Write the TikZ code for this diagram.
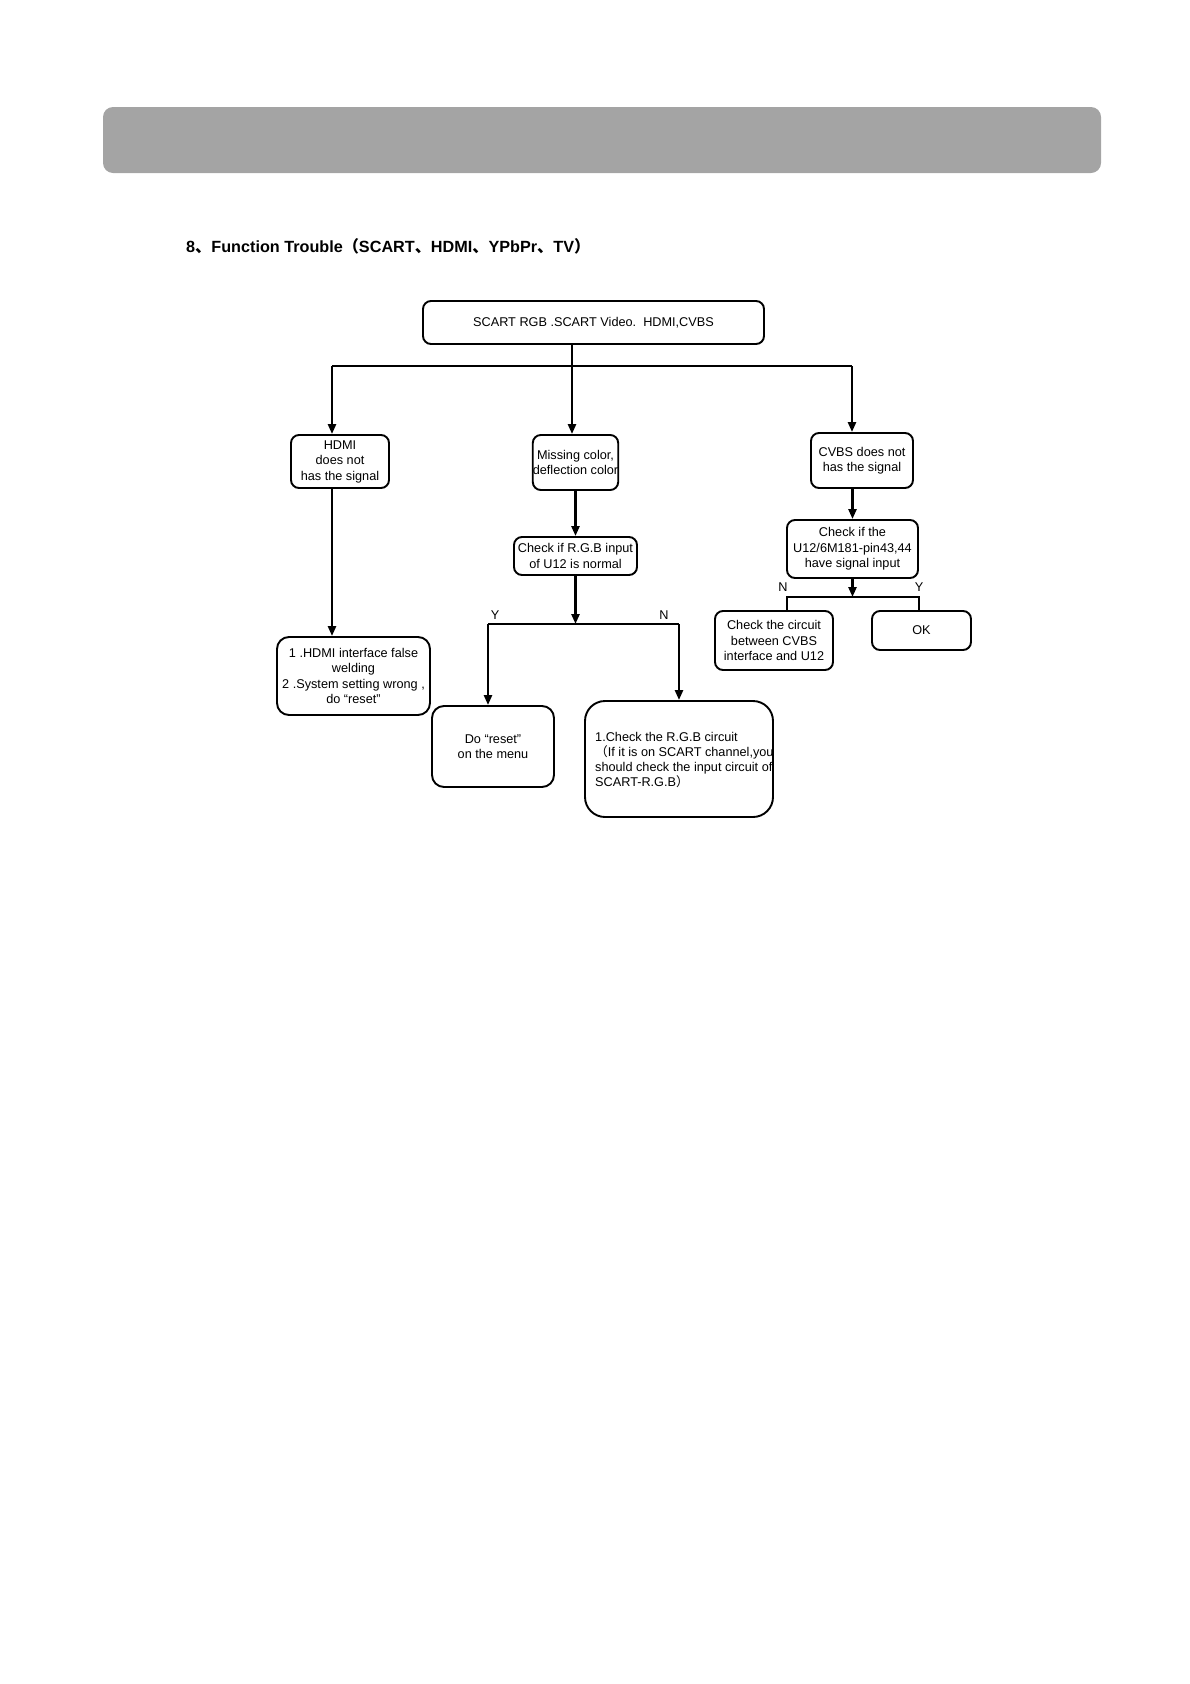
\documentclass[tikz,border=0pt]{standalone}
\usepackage{fontspec}
\setmainfont{Liberation Sans}
\newfontfamily\cjk{Noto Sans CJK SC}
\usetikzlibrary{arrows.meta}
\tikzset{
  box/.style   ={draw,rounded corners=8pt,line width=1.9pt,inner sep=0pt,align=center,
                 font=\fontsize{12.7}{15.5}\selectfont},
  midbox/.style={box,rounded corners=12pt},
  bigbox/.style={box,rounded corners=20pt},
  wire/.style  ={line width=2.4pt},
  arr/.style   ={wire,-{Triangle[length=10pt,width=8pt]}},
  yn/.style    ={font=\fontsize{12.7}{14}\selectfont,inner sep=0pt},
}
\newcommand{\cj}[1]{{\cjk #1}}

\begin{document}
\begin{tikzpicture}[x=1pt,y=-1pt]
  \useasboundingbox (0,0) rectangle (1190,1684);
  % header bar and title
  \fill[rounded corners=10pt,fill={rgb,255:red,164;green,164;blue,164}] (103,107) rectangle (1101,173);
  \node[anchor=west,inner sep=0pt,font=\fontsize{16.2}{18}\selectfont\bfseries] (title) at (186,246)
    {8\cj{、}Function Trouble\cj{（}SCART\cj{、}HDMI\cj{、}YPbPr\cj{、}TV\cj{）}};

  % boxes
  \node[box,minimum width=341,minimum height=43] (src) at (593.5,322.5) {SCART RGB .SCART Video.\ \ HDMI,CVBS};
  \node[box,minimum width=98,minimum height=53]  (hdmi) at (340,461.5) {HDMI\\does not\\has the signal};
  \node[box,minimum width=85,minimum height=55]  (miss) at (575.5,462.5) {Missing color,\\deflection color};
  \node[box,minimum width=102,minimum height=55] (cvbs) at (862,460.5) {CVBS does not\\has the signal};
  \node[midbox,minimum width=153,minimum height=78] (fix) at (353.5,676)
    {1 .HDMI interface false\\welding\\2 .System setting wrong ,\\do “reset”};
  \node[box,minimum width=123,minimum height=38] (rgbq) at (575.5,556) {Check if R.G.B input\\of U12 is normal};
  \node[box,minimum width=131,minimum height=58] (chk) at (852.5,549) {Check if the\\U12/6M181-pin43,44\\have signal input};
  \node[box,minimum width=118,minimum height=59] (ckc) at (774,640.5) {Check the circuit\\between CVBS\\interface and U12};
  \node[box,minimum width=99,minimum height=39]  (ok) at (921.5,630.5) {OK};
  \node[midbox,minimum width=122,minimum height=81] (reset) at (493,746.5) {Do “reset”\\on the menu};
  \node[bigbox,minimum width=188,minimum height=116] (rgbc) at (679,759) {};
  \node[anchor=west,inner sep=0pt,align=left,font=\fontsize{12.7}{15}\selectfont] (rgbtxt) at (595,759.5)
    {1.Check the R.G.B circuit\\\cj{（}If it is on SCART channel,you\\should check the input circuit of\\SCART-R.G.B\cj{）}};

  % first split
  \coordinate (sp) at (572,366);
  \coordinate (spl) at (332,366);
  \coordinate (spr) at (852,366);
  \draw[arr] (src.south -| sp) -- (sp |- miss.north);
  \draw[wire] (spl) -- (spr);
  \draw[arr] (spl) -- (spl |- hdmi.north);
  \draw[arr] (spr) -- (spr |- cvbs.north);
  \draw[arr] (spl |- hdmi.south) -- (spl |- fix.north);

  % middle branch
  \draw[arr] (miss.south) -- (rgbq.north);
  \coordinate (mj) at (575.5,624);
  \coordinate (my) at (488,624);
  \coordinate (mn) at (679,624);
  \draw[arr] (rgbq.south) -- (mj);
  \draw[wire] (my) -- (mn);
  \draw[arr] (my) -- (my |- reset.north);
  \draw[arr] (mn) -- (mn |- rgbc.north);
  \node[yn] (ly) at (495,615) {Y};
  \node[yn] (ln) at (664,615) {N};

  % right branch
  \draw[arr] (cvbs.south -| chk) -- (chk.north);
  \coordinate (rj) at (852.5,597);
  \coordinate (rn) at (787,597);
  \coordinate (ry) at (919,597);
  \draw[arr] (chk.south) -- (rj);
  \draw[wire,line width=1.8pt] (rn |- ckc.north) -- (rn) -- (ry) -- (ry |- ok.north);
  \node[yn] (rln) at (783,587) {N};
  \node[yn] (rly) at (919,587) {Y};
\end{tikzpicture}
\end{document}
